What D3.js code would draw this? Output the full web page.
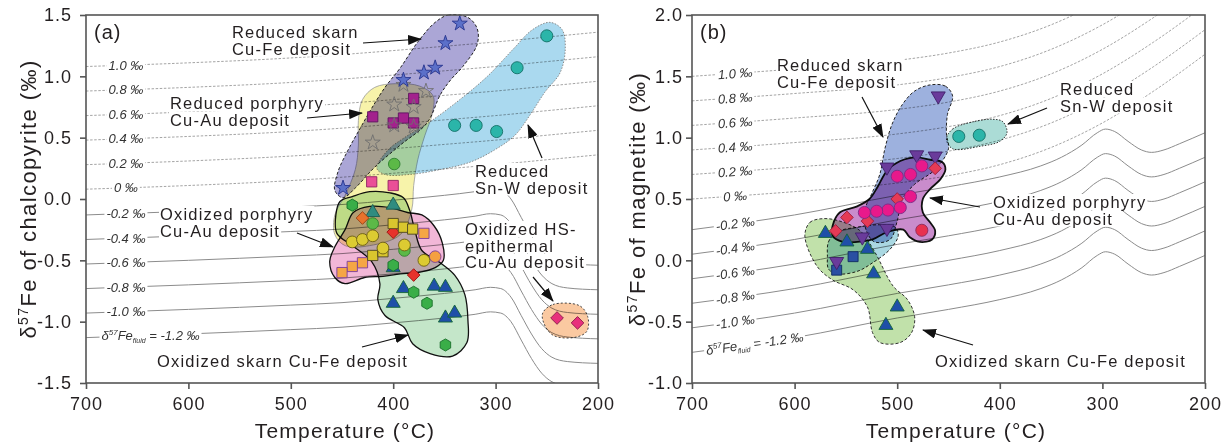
<!DOCTYPE html>
<html>
<head>
<meta charset="utf-8">
<script src="https://cdn.jsdelivr.net/npm/d3@7"></script>
<style>
  body { margin: 0; background: #fff; }
  svg { font-family: "Liberation Sans", Arial, sans-serif; }
</style>
</head>
<body>
<svg id="chart" width="1222" height="447"></svg>
<script>
// ---------- guide curves: d57Fe(mineral) = d57Fe(fluid) + fractionation(T) ----------
const fluidValues = [1.0, 0.8, 0.6, 0.4, 0.2, 0, -0.2, -0.4, -0.6, -0.8, -1.0, -1.2];
const fluidLabels = ["1.0 ‰", "0.8 ‰", "0.6 ‰", "0.4 ‰", "0.2 ‰", "0 ‰",
                     "-0.2 ‰", "-0.4 ‰", "-0.6 ‰", "-0.8 ‰", "-1.0 ‰", null];

// [T °C, fractionation ‰]
const fracDashedA = [[700,0.08],[600,0.11],[500,0.15],[430,0.19],[400,0.21],[350,0.245],[300,0.28],[250,0.32],[200,0.36]];
const fracSolidA  = [[700,0.07],[600,0.10],[500,0.135],[450,0.155],[400,0.19],[350,0.23],[320,0.26],[305,0.28],
                     [295,0.27],[285,0.20],[275,0.05],[265,-0.10],[255,-0.22],[245,-0.29],[230,-0.325],[200,-0.34]];
const fracDashedB = [[700,0.50],[600,0.56],[500,0.63],[450,0.69],[400,0.78],[350,0.92],[300,1.12],[250,1.38],[200,1.68]];
const fracSolidB  = [[700,0.45],[600,0.57],[500,0.73],[450,0.80],[400,0.88],[360,0.97],[340,1.04],[320,1.14],[305,1.24],
                     [297,1.27],[288,1.25],[275,1.17],[262,1.10],[252,1.08],[240,1.10],[225,1.15],[200,1.24]];

// ---------- panel (a): chalcopyrite ----------
const fieldReducedSkarnA = [[359,1.44],[346,1.50],[327,1.48],[318,1.39],[318,1.26],[332,1.08],[344,0.97],[354,0.85],
                            [367,0.62],[393,0.44],[418,0.26],[437,0.09],[449,0.01],[457,0.07],[454,0.22],[444,0.40],
                            [432,0.58],[421,0.74],[408,0.91],[393,1.07],[376,1.28]];
const fieldReducedPorphyryA = [[430,0.81],[418,0.91],[398,0.94],[374,0.92],[361,0.84],[362,0.69],[369,0.52],[376,0.32],
                               [380,0.11],[382,-0.09],[393,-0.29],[423,-0.38],[447,-0.38],[457,-0.29],[457,-0.13],
                               [447,0.03],[437,0.24],[434,0.44],[434,0.64]];
const fieldSnWA = [[416,0.25],[405,0.40],[389,0.50],[364,0.63],[335,0.81],[308,1.00],[283,1.22],[264,1.38],[247,1.44],
                   [235,1.38],[232,1.22],[237,1.03],[252,0.87],[266,0.69],[281,0.52],[301,0.40],[325,0.30],[354,0.24],
                   [384,0.20],[408,0.20]];
const fieldOxSkarnA = [[452,-0.02],[440,0.02],[423,0.06],[403,0.05],[390,0.01],[384,-0.09],[379,-0.25],[372,-0.42],
                       [354,-0.52],[340,-0.62],[330,-0.78],[327,-0.99],[328,-1.17],[342,-1.28],[364,-1.26],[381,-1.18],
                       [389,-1.05],[408,-0.95],[415,-0.82],[413,-0.69],[421,-0.51],[440,-0.38],[455,-0.28],[456,-0.13]];
const fieldOxPorphyryA = [[439,-0.11],[423,-0.06],[403,-0.07],[386,-0.11],[372,-0.13],[360,-0.22],[352,-0.36],[351,-0.50],
                          [359,-0.56],[376,-0.60],[393,-0.61],[410,-0.63],[428,-0.64],[447,-0.69],[457,-0.64],[462,-0.51],
                          [457,-0.39],[447,-0.25]];
const fieldHSA = [[254,-0.93],[244,-0.86],[218,-0.87],[210,-0.96],[211,-1.08],[224,-1.13],[244,-1.11],[253,-1.01]];

const starsBlueA   = [[335,1.43],[349,1.27],[359,1.07],[370,1.03],[390,0.97],[449,0.09]];
const starsGrayA   = [[390,0.93],[368,0.88],[399,0.77],[380,0.75],[399,0.60],[380,0.59],[420,0.46]];
const sqMagentaA   = [[380,0.82],[420,0.67],[400,0.62],[390,0.66],[380,0.62]];
const sqPinkA      = [[421,0.14],[400,0.11]];
const circGreenA   = [[399,0.285],[420,-0.20],[389,-0.42]];
const circTealA    = [[250,1.33],[279,1.07],[340,0.60],[319,0.60],[299,0.55]];
const hexGreenA    = [[440,-0.05],[400,-0.54],[380,-0.76],[367,-0.85],[349,-1.19]];
const triTealA     = [[400,-0.05],[420,-0.11]];
const diaOrangeA   = [[430,-0.155]];
const sqYellowA    = [[400,-0.20],[390,-0.23],[381,-0.245],[420,-0.46],[410,-0.43]];
const diaRedA      = [[400,-0.27],[380,-0.62]];
const sqOrangeA    = [[370,-0.28],[430,-0.52],[440,-0.55],[450,-0.60]];
const circYellowA  = [[440,-0.35],[430,-0.33],[420,-0.30],[410,-0.40],[389,-0.375],[370,-0.50]];
const circOrangeA  = [[359,-0.47]];
const triBlueA     = [[400,-0.56],[390,-0.73],[360,-0.71],[349,-0.72],[400,-0.85],[349,-0.97],[340,-0.93]];
const diaPinkA     = [[240,-0.97],[220,-1.01]];

// ---------- panel (b): magnetite ----------
const fieldReducedSkarnB = [[468,1.43],[453,1.42],[446,1.34],[451,1.19],[452,1.03],[450,0.91],[463,0.74],[483,0.62],
                            [495,0.50],[500,0.32],[507,0.17],[522,0.15],[530,0.24],[532,0.40],[525,0.54],[517,0.70],
                            [512,0.91],[505,1.11],[495,1.27],[483,1.38]];
const fieldCyanB = [[568,0.03],[567,0.15],[559,0.23],[539,0.27],[517,0.29],[502,0.27],[499,0.20],[507,0.09],
                    [524,-0.02],[539,-0.09],[559,-0.11],[567,-0.07]];
const fieldOxSkarnB = [[590,0.20],[585,0.31],[572,0.34],[556,0.32],[536,0.24],[522,0.07],[504,-0.21],[490,-0.32],
                       [483,-0.46],[486,-0.59],[497,-0.67],[517,-0.67],[524,-0.59],[529,-0.38],[543,-0.24],
                       [563,-0.16],[578,-0.05]];
const fieldOxPorphyryB = [[563,0.28],[556,0.39],[539,0.44],[527,0.50],[519,0.60],[510,0.73],[497,0.81],[481,0.84],
                          [468,0.82],[456,0.80],[453,0.74],[458,0.66],[468,0.58],[475,0.50],[475,0.39],[468,0.31],
                          [463,0.24],[466,0.17],[478,0.15],[488,0.19],[494,0.25],[510,0.23],[524,0.17],[539,0.15],
                          [553,0.15],[563,0.20]];
const fieldSnWB = [[452,0.99],[446,1.07],[426,1.13],[407,1.15],[397,1.13],[393,1.04],[400,0.97],[419,0.93],[446,0.91]];

const triInvPurpleB = [[460,1.34],[481,0.86],[463,0.85],[510,0.76],[510,0.26],[534,0.19],[559,-0.01]];
const circMagentaB  = [[476,0.77],[487,0.70],[500,0.685],[487,0.52],[497,0.43],[509,0.41],[520,0.40],[532,0.39]];
const circRedB      = [[476,0.245]];
const diaRedB       = [[463,0.75],[500,0.50],[529,0.32],[549,0.35],[560,0.24]];
const triBlueB      = [[570,0.22],[549,0.15],[529,0.09],[523,-0.11],[500,-0.38],[511,-0.53]];
const sqBlueB       = [[543,0.03],[559,-0.08]];
const circTealB     = [[440,1.01],[420,1.02]];

const xTicks = [700, 600, 500, 400, 300, 200];
const yTicksA = [-1.5, -1.0, -0.5, 0.0, 0.5, 1.0, 1.5];
const yTicksB = [-1.0, -0.5, 0.0, 0.5, 1.0, 1.5, 2.0];

const INK = "#231f20";
const svg = d3.select("#chart");
const defs = svg.append("defs");
defs.append("marker").attr("id", "arrow")
    .attr("viewBox", "0 0 14 10").attr("refX", 13).attr("refY", 5)
    .attr("markerWidth", 14).attr("markerHeight", 10)
    .attr("markerUnits", "userSpaceOnUse").attr("orient", "auto")
  .append("path").attr("d", "M0,0L14,5L0,10Z").attr("fill", "#111");

const hexagon = {
    draw(ctx, size) {
        const r = Math.sqrt(size / (1.5 * Math.sqrt(3)));
        for (let i = 0; i < 6; i++) {
            const a = Math.PI / 6 + i * Math.PI / 3;
            if (i === 0) ctx.moveTo(r * Math.cos(a), r * Math.sin(a));
            else ctx.lineTo(r * Math.cos(a), r * Math.sin(a));
        }
        ctx.closePath();
    }
};

function withBg(g, textSel, pad) {
    const b = textSel.node().getBBox();
    g.insert("rect", function () { return textSel.node(); })
     .attr("x", b.x - pad).attr("y", b.y + 1).attr("width", b.width + 2 * pad).attr("height", b.height - 2)
     .attr("fill", "#fff");
}

function panel(opt) {
    const x = d3.scaleLinear().domain([700, 200]).range([opt.left, opt.right]);
    const y = d3.scaleLinear().domain(opt.yDomain).range([opt.bottom, opt.top]);
    const g = svg.append("g");

    defs.append("clipPath").attr("id", "clip-" + opt.id)
      .append("rect").attr("x", opt.left).attr("y", opt.top)
      .attr("width", opt.right - opt.left).attr("height", opt.bottom - opt.top);

    // guide curves
    const line = d3.line().x(d => x(d[0])).y(d => y(d[1])).curve(d3.curveMonotoneX);
    const guides = g.append("g").attr("clip-path", `url(#clip-${opt.id})`);
    fluidValues.forEach(f => {
        const base = f >= 0 ? opt.fracDashed : opt.fracSolid;
        guides.append("path")
            .datum(base.map(([t, d]) => [t, f + d]))
            .attr("d", line)
            .attr("fill", "none")
            .attr("stroke", f >= 0 ? "#9a9a9a" : "#8c8c8c")
            .attr("stroke-width", f >= 0 ? 0.9 : 1)
            .attr("stroke-dasharray", f >= 0 ? "2.5,1.6" : null);
    });

    // fluid labels
    const labG = g.append("g");
    fluidValues.forEach((f, i) => {
        const base = f >= 0 ? opt.fracDashed : opt.fracSolid;
        const frac = d3.scaleLinear().domain(base.map(d => d[0])).range(base.map(d => d[1]));
        const T = fluidLabels[i] ? opt.labelT : opt.lastLabelT;
        const px = x(T), py = y(f + frac(T));
        const ang = opt.rotateLabels
            ? Math.atan2(y(f + frac(T - 15)) - y(f + frac(T + 15)), x(T - 15) - x(T + 15)) * 180 / Math.PI : 0;
        const lg = labG.append("g").attr("transform", `translate(${px},${py}) rotate(${ang})`);
        const t = lg.append("text").attr("text-anchor", "middle").attr("dy", "0.36em")
            .attr("font-size", 13).attr("font-style", "italic").attr("fill", "#333");
        if (fluidLabels[i]) {
            t.text(fluidLabels[i]);
        } else {
            t.append("tspan").text("δ");
            t.append("tspan").attr("font-size", 8).attr("dy", -5).text("57");
            t.append("tspan").attr("dy", 5).text("Fe");
            t.append("tspan").attr("font-size", 7).attr("dy", 3).text("fluid");
            t.append("tspan").attr("dy", -3).text(" = -1.2 ‰");
        }
        withBg(lg, t, 2);
    });

    // annotation backgrounds + text
    const annG = g.append("g");
    const annTexts = [];
    opt.notes.forEach(n => {
        n.lines.forEach((s, k) => {
            const t = annG.append("text").attr("x", n.x).attr("y", n.y + k * 16.5)
                .attr("font-size", 16.5).attr("letter-spacing", 1.2).attr("fill", INK).text(s);
            annTexts.push(t);
        });
    });
    annTexts.forEach(t => withBg(annG, t, 1));

    // fields
    const area = d3.line().x(d => x(d[0])).y(d => y(d[1])).curve(d3.curveCatmullRomClosed.alpha(0.5));
    const fieldG = g.append("g");
    opt.fields.forEach(fd => {
        fieldG.append("path").datum(fd.data).attr("d", area)
            .attr("fill", fd.fill).attr("stroke", fd.stroke)
            .attr("stroke-width", fd.width || 1)
            .attr("stroke-dasharray", fd.dash || null)
            .style("mix-blend-mode", "multiply");
    });

    // points
    const ptG = g.append("g");
    opt.points.forEach(p => {
        ptG.selectAll(null).data(p.data).join("path")
            .attr("transform", d => `translate(${x(d[0])},${y(d[1])}) rotate(${p.rot || 0})`)
            .attr("d", d3.symbol(p.sym, p.size)())
            .attr("fill", p.fill).attr("stroke", p.stroke).attr("stroke-width", p.sw || 0.9);
    });

    // arrows
    opt.arrows.forEach(a => {
        g.append("line").attr("x1", a[0]).attr("y1", a[1]).attr("x2", a[2]).attr("y2", a[3])
            .attr("stroke", "#111").attr("stroke-width", 1.2).attr("marker-end", "url(#arrow)");
    });

    // frame and axes
    g.append("rect").attr("x", opt.left).attr("y", opt.top)
        .attr("width", opt.right - opt.left).attr("height", opt.bottom - opt.top)
        .attr("fill", "none").attr("stroke", "#555").attr("stroke-width", 1.6);

    const xAxis = g.append("g").attr("transform", `translate(0,${opt.bottom})`)
        .call(d3.axisBottom(x).tickValues(xTicks).tickSize(6).tickSizeOuter(0).tickPadding(8).tickFormat(d3.format("d")));
    const yAxis = g.append("g").attr("transform", `translate(${opt.left},0)`)
        .call(d3.axisLeft(y).tickValues(opt.yTicks).tickSize(6).tickSizeOuter(0).tickPadding(opt.yPad)
            .tickFormat(v => v.toFixed(1)));
    [xAxis, yAxis].forEach(ax => {
        ax.select(".domain").remove();
        ax.selectAll(".tick line").attr("stroke", "#555").attr("stroke-width", 1.6);
        ax.selectAll(".tick text").attr("font-size", 18).attr("letter-spacing", 1)
            .attr("font-family", '"Liberation Sans", Arial, sans-serif').attr("fill", INK);
    });

    g.append("text").attr("x", opt.left + 8).attr("y", 39).attr("font-size", 20)
        .attr("letter-spacing", 1).attr("fill", INK).text(opt.tag);

    g.append("text").attr("x", opt.xTitleX).attr("y", 438).attr("text-anchor", "middle")
        .attr("font-size", 21).attr("letter-spacing", 1.2).attr("fill", INK).text("Temperature (°C)");

    const yt = g.append("text").attr("transform", `translate(${opt.yTitleX},${(opt.top + opt.bottom) / 2}) rotate(-90)`)
        .attr("text-anchor", "middle").attr("font-size", 22).attr("letter-spacing", 1.4).attr("fill", INK);
    yt.append("tspan").text("δ");
    yt.append("tspan").attr("font-size", 14).attr("dy", -8).text("57");
    yt.append("tspan").attr("dy", 8).text(opt.yTitle);
}

const pal = {
    starBlue: ["#5b70c9", "#27348e"], starGray: ["none", "#6f6f6f"],
    sqMagenta: ["#a3228d", "#5e1460"], sqPink: ["#ea4f97", "#8e2262"],
    circGreen: ["#5cb947", "#2f8030"], circTeal: ["#2bb5a9", "#136f67"],
    hex: ["#3aae48", "#1a6f2a"], triTeal: ["#2f8c80", "#1a5a50"],
    diaOrange: ["#e8722c", "#9b4010"], sqYellow: ["#d9c62e", "#4d4520"],
    diaRed: ["#e6332b", "#9e1414"], sqOrange: ["#f5a645", "#7b3c9c"],
    circYellow: ["#dccb32", "#6b5e12"], circOrange: ["#f5a040", "#7b3c9c"],
    triBlue: ["#1f4fa8", "#136438"], diaPink: ["#e8307c", "#8c1f4c"],
    triPurple: ["#6a3b9b", "#3f1f6a"], circMagenta: ["#e8198b", "#7d2a86"],
    circRed: ["#e83150", "#8d2a5a"], diaRedB: ["#e53a55", "#9c2040"], sqBlue: ["#2a50a2", "#0f2a60"]
};
const pt = (data, sym, key, size, rot) => ({ data, sym, size, rot, fill: pal[key][0], stroke: pal[key][1] });

panel({
    id: "a", tag: "(a)", left: 86, right: 598, top: 15, bottom: 383, yDomain: [-1.5, 1.5], yTicks: yTicksA, yPad: 8,
    fracDashed: fracDashedA, fracSolid: fracSolidA, labelT: 661, lastLabelT: 637, rotateLabels: false,
    xTitleX: 345, yTitleX: 36, yTitle: "Fe of chalcopyrite (‰)",
    fields: [
        { data: fieldReducedSkarnA, fill: "#aba6d6", stroke: "#222", dash: "3,2" },
        { data: fieldReducedPorphyryA, fill: "#f7f3aa", stroke: "#9a9a9a", width: 0.8 },
        { data: fieldSnWA, fill: "#aad9ef", stroke: "#8a8a8a", dash: "1.5,1.5" },
        { data: fieldOxSkarnA, fill: "#c4e6c9", stroke: "#111", width: 1.3 },
        { data: fieldOxPorphyryA, fill: "#f2b7d7", stroke: "#111", width: 1.3 },
        { data: fieldHSA, fill: "#fac9a1", stroke: "#444", dash: "2,2" }
    ],
    points: [
        pt(sqMagentaA, d3.symbolSquare, "sqMagenta", 105),
        pt(starsGrayA, d3.symbolStar, "starGray", 70),
        pt(starsBlueA, d3.symbolStar, "starBlue", 70),
        pt(sqPinkA, d3.symbolSquare, "sqPink", 105),
        pt(circGreenA, d3.symbolCircle, "circGreen", 105),
        pt(circTealA, d3.symbolCircle, "circTeal", 115),
        pt(triBlueA, d3.symbolTriangle, "triBlue", 85),
        pt(triTealA, d3.symbolTriangle, "triTeal", 85),
        pt(hexGreenA, hexagon, "hex", 95),
        pt(diaRedA, d3.symbolSquare, "diaRed", 80, 45),
        pt(diaOrangeA, d3.symbolSquare, "diaOrange", 80, 45),
        pt(sqOrangeA, d3.symbolSquare, "sqOrange", 105),
        pt(circOrangeA, d3.symbolCircle, "circOrange", 105),
        pt(sqYellowA, d3.symbolSquare, "sqYellow", 105),
        pt(circYellowA, d3.symbolCircle, "circYellow", 110),
        pt(diaPinkA, d3.symbolSquare, "diaPink", 80, 45)
    ],
    notes: [
        { lines: ["Reduced skarn", "Cu-Fe deposit"], x: 232, y: 38 },
        { lines: ["Reduced porphyry", "Cu-Au deposit"], x: 170, y: 109 },
        { lines: ["Reduced", "Sn-W deposit"], x: 475, y: 177 },
        { lines: ["Oxidized porphyry", "Cu-Au deposit"], x: 160, y: 220 },
        { lines: ["Oxidized HS-", "epithermal", "Cu-Au deposit"], x: 465, y: 235 },
        { lines: ["Oxidized skarn Cu-Fe deposit"], x: 157, y: 367 }
    ],
    arrows: [[363, 43, 421, 39], [307, 118, 362, 113], [542, 158, 528, 125],
             [297, 233, 333, 247], [533, 277, 553, 301], [362, 347, 408, 335]]
});

panel({
    id: "b", tag: "(b)", left: 692, right: 1205, top: 15, bottom: 383, yDomain: [-1.0, 2.0], yTicks: yTicksB, yPad: 3,
    fracDashed: fracDashedB, fracSolid: fracSolidB, labelT: 658, lastLabelT: 639, rotateLabels: true,
    xTitleX: 956, yTitleX: 645, yTitle: "Fe of magnetite (‰)",
    fields: [
        { data: fieldOxSkarnB, fill: "#c1e1aa", stroke: "#333", dash: "3,2" },
        { data: fieldCyanB, fill: "#aad8e2", stroke: "#222", dash: "3,2" },
        { data: fieldReducedSkarnB, fill: "#9db1de", stroke: "#222", dash: "3,2" },
        { data: fieldOxPorphyryB, fill: "#c98ccc", stroke: "#111", width: 1.8 },
        { data: fieldSnWB, fill: "#abdcd6", stroke: "#333", dash: "1.5,1.5" }
    ],
    points: [
        pt(triBlueB, d3.symbolTriangle, "triBlue", 85),
        pt(sqBlueB, d3.symbolSquare, "sqBlue", 100),
        pt(triInvPurpleB, d3.symbolTriangle, "triPurple", 85, 180),
        pt(diaRedB, d3.symbolSquare, "diaRedB", 80, 45),
        pt(circMagentaB, d3.symbolCircle, "circMagenta", 115),
        pt(circRedB, d3.symbolCircle, "circRed", 115),
        pt(circTealB, d3.symbolCircle, "circTeal", 115)
    ],
    notes: [
        { lines: ["Reduced skarn", "Cu-Fe deposit"], x: 777, y: 71 },
        { lines: ["Reduced", "Sn-W deposit"], x: 1060, y: 95 },
        { lines: ["Oxidized porphyry", "Cu-Au deposit"], x: 993, y: 208 },
        { lines: ["Oxidized skarn Cu-Fe deposit"], x: 935, y: 367 }
    ],
    arrows: [[862, 97, 883, 137], [1047, 108, 1008, 124], [980, 207, 930, 198], [973, 345, 923, 330]]
});
</script>
</body>
</html>
